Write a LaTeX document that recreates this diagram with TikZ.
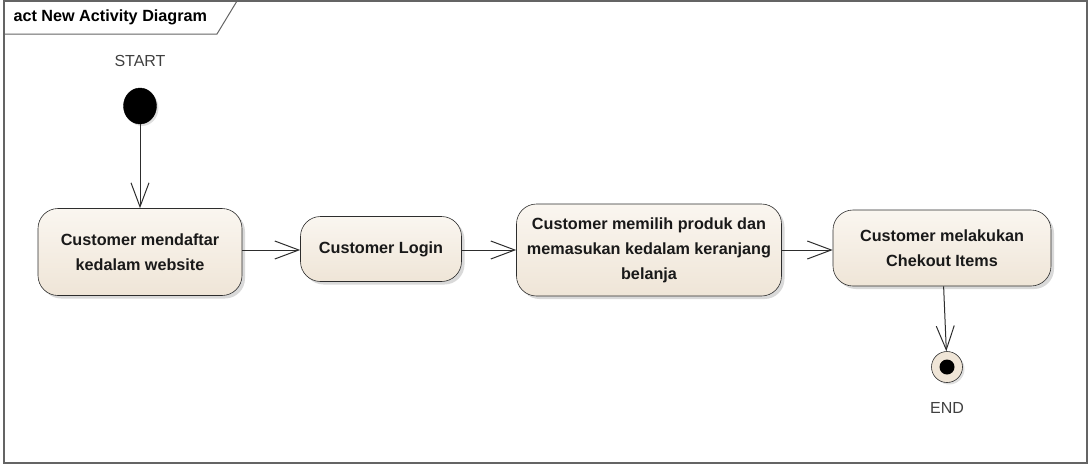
\documentclass[tikz,border=0pt]{standalone}
\usepackage{fontspec}
\setsansfont{Liberation Sans}
\usepackage{tikz}
\usetikzlibrary{shapes.geometric, arrows.meta, shadows}
\usepackage{xcolor}

\definecolor{actfill}{RGB}{239,229,215}
\definecolor{actlight}{RGB}{250,246,240}
\definecolor{actline}{RGB}{45,45,45}
\definecolor{frameline}{RGB}{100,100,100}

\begin{document}
\begin{tikzpicture}[x=1pt, y=-1pt,
    start/.style = {ellipse, draw=black, fill=black, inner sep=0pt, minimum width=33pt, minimum height=36pt, drop shadow={shadow xshift=2pt, shadow yshift=-2pt, opacity=0.25}},
    stop/.style = {circle, draw=actline, fill=actfill, semithick, inner sep=0pt, minimum size=31pt, drop shadow={shadow xshift=2pt, shadow yshift=-2pt, opacity=0.25}},
    activity/.style = {rectangle, draw=actline, semithick, rounded corners=20pt, top color=actlight, bottom color=actfill, align=center, text=black!90, font=\sffamily\bfseries\fontsize{16.2}{25}\selectfont, inner sep=0pt, drop shadow={shadow xshift=3pt, shadow yshift=-3pt, opacity=0.3}},
    label/.style = {font=\sffamily\fontsize{16}{19}\selectfont, text=black!75},
    arrow/.style = {draw=actline, -{Straight Barb[length=24pt, width=18pt, line width=1pt]}, line width=1pt}
]
\useasboundingbox (0,0) rectangle (1089,464);

% Frame and title tab
\draw [frameline, line width=1.3pt] (4,1) rectangle (1087,463);
\draw [frameline, line width=1pt] (4,34) -- (217,34) -- (237,1);
\node (title) [anchor=west, font=\sffamily\bfseries\fontsize{16.2}{18}\selectfont] at (10,17) {act New Activity Diagram};

\node (l_start) [label] at (140,61) {START};
\node (st) [start] at (140,106) {};

\node (a_daftar) [activity, minimum width=204pt, minimum height=87pt] at (140,252) {Customer mendaftar\\kedalam website};
\node (a_login) [activity, minimum width=161pt, minimum height=65pt] at (381,249) {Customer Login};
\node (a_pilih) [activity, minimum width=265pt, minimum height=92pt] at (649,250) {Customer memilih produk dan\\memasukan kedalam keranjang\\belanja};
\node (a_checkout) [activity, minimum width=218pt, minimum height=76pt] at (942,248) {Customer melakukan\\Chekout Items};

\node (stp) [stop] at (947,367) {};
\node (stp_dot) [circle, fill=black, inner sep=0pt, minimum size=15pt] at (stp) {};
\node (l_end) [label] at (947,408) {END};

\draw [arrow] (st) -- (a_daftar);
\draw [arrow] (a_daftar.east |- a_pilih.west) -- (a_login.west |- a_pilih.west);
\draw [arrow] (a_login.east |- a_pilih.west) -- (a_pilih.west);
\draw [arrow] (a_pilih.east) -- (a_checkout.west |- a_pilih.east);
\draw [arrow] (a_checkout) -- (stp);

\end{tikzpicture}
\end{document}
